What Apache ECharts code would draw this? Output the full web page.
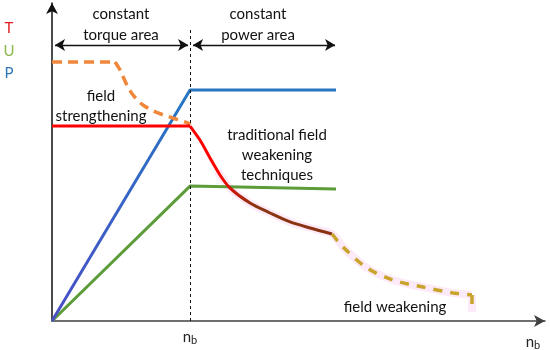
<!DOCTYPE html>
<html><head><meta charset="utf-8">
<script src="https://cdn.jsdelivr.net/npm/echarts@6/dist/echarts.min.js"></script>
<style>html,body{margin:0;padding:0;background:#fff}#c{width:550px;height:350px}</style>
</head><body><div id="c"></div>
<script>
// speed in units of n_b, values in units of rated torque
var torqueFlat = [[0,1.0],[1,1.0]];
var torqueT = [[1,1.0],[1.072,0.928],[1.145,0.836],[1.217,0.749],[1.290,0.682],[1.435,0.605],[1.580,0.554],[1.725,0.508],[1.870,0.477],[2.029,0.446]];
var voltageU = [[0,0],[1,0.692],[2.058,0.677]];
var powerP = [[0,0],[1,1.185],[2.058,1.185]];
var fieldStrengtheningFlat = [[0,1.328],[0.457,1.328]];
var fieldStrengthening = [[0.457,1.328],[0.493,1.287],[0.543,1.210],[0.587,1.159],[0.659,1.108],[0.768,1.067],[0.877,1.041],[0.986,1.015],[1.0,1.005]];
var fieldWeakening = [[2.029,0.446],[2.109,0.379],[2.283,0.272],[2.471,0.210],[2.688,0.174],[2.906,0.144],[3.043,0.133]];
var fieldWeakeningDrop = [[3.043,0.133],[3.043,0.046]];
var haloPath = [[1.20,0.77],[1.290,0.682],[1.435,0.605],[1.580,0.554],[1.725,0.508],[1.870,0.477],[2.029,0.446],[2.109,0.379],[2.283,0.272],[2.471,0.210],[2.688,0.174],[2.906,0.144],[3.043,0.133]];
var nb = 1;
var areaArrowY = 1.415;
var xMax = 3.572, yMax = 1.631;

var font = 'Lato, "Open Sans", sans-serif';
var chart = echarts.init(document.getElementById('c'));
function txt(x, y, s, color, size, align) {
  return {type:'text', x:x, y:y, style:{text:s, fill:color||'#111', font:(size||15)+'px '+font, align:align||'center', verticalAlign:'middle'}};
}
function rich(x, y) {
  return {type:'text', x:x, y:y, style:{text:'{n|n}{b|b}', rich:{n:{fontSize:15, fontFamily:font, fill:'#222'}, b:{fontSize:11, fontFamily:font, fill:'#222', padding:[6,0,0,0]}}, align:'center', verticalAlign:'middle'}};
}
var sm = {smooth:0.3};
function ln(data, z, ls, extra) {
  var s = {type:'line', data:data, symbol:'none', z:z, lineStyle:ls};
  if (extra) for (var k in extra) s[k] = extra[k];
  return s;
}
chart.setOption({
  animation:false,
  grid:{left:52, right:5, top:3, bottom:29},
  xAxis:{type:'value', min:0, max:xMax, axisLine:{show:true, symbol:['none','arrow'], symbolSize:[9,11], lineStyle:{color:'#404040', width:1.5}}, axisTick:{show:false}, axisLabel:{show:false}, splitLine:{show:false}},
  yAxis:{type:'value', min:0, max:yMax, axisLine:{show:true, symbol:['none','arrow'], symbolSize:[9,11], lineStyle:{color:'#111', width:1.5}}, axisTick:{show:false}, axisLabel:{show:false}, splitLine:{show:false}},
  series:[
    ln(haloPath, 1, {color:'#fdeaf8', width:8}, sm),
    ln(fieldWeakeningDrop, 1, {color:'#fdeaf8', width:8}),
    {type:'line', data:[], symbol:'none', z:2,
      markLine:{silent:true, symbol:'none', label:{show:false}, lineStyle:{color:'#111', width:1, type:[3,3]},
        data:[[{coord:[nb,0]},{coord:[nb,(321-28)/195]}]]}},
    {type:'line', data:[], symbol:'none', z:2,
      markLine:{silent:true, symbol:['arrow','arrow'], symbolSize:[9,10], label:{show:false}, lineStyle:{color:'#111', width:1.3, type:'solid'},
        data:[[{coord:[0.022,areaArrowY]},{coord:[0.986,areaArrowY]}],[{coord:[1.022,areaArrowY]},{coord:[2.051,areaArrowY]}]]}},
    ln(voltageU, 3, {color:'#5c9c3a', width:3}),
    ln(powerP, 4, {width:3, color:new echarts.graphic.LinearGradient(0,1,0,0,[{offset:0,color:'#4a4ec6'},{offset:1,color:'#2677c4'}])}),
    ln(fieldStrengtheningFlat, 5, {color:'#f0873a', width:3.5, type:[10,6]}),
    ln(fieldStrengthening, 5, {color:'#f0873a', width:3.5, type:[10,6]}, sm),
    ln(torqueFlat, 6, {color:'#ff0000', width:3}),
    ln(torqueT, 6, {width:3, color:new echarts.graphic.LinearGradient(0,0,1,0,[{offset:0,color:'#ff0000'},{offset:0.2,color:'#ff0000'},{offset:0.45,color:'#8a3512'},{offset:1,color:'#8a3010'}])}, sm),
    ln(fieldWeakening, 6, {color:'#c8a42a', width:3.5, type:[9,8]}, sm),
    ln(fieldWeakeningDrop, 6, {color:'#c8a42a', width:3.5, type:[9,8]})
  ],
  graphic:[
    txt(9,28,'T','#e02020',15), txt(9,51,'U','#8ab84a',15), txt(9,73,'P','#2e75b6',15),
    txt(121,14,'constant'), txt(121,35,'torque area'),
    txt(258,14,'constant'), txt(258,35,'power area'),
    txt(101,96,'field'), txt(101,116,'strengthening'),
    txt(277,135,'traditional field'), txt(277,155,'weakening'), txt(277,175,'techniques'),
    txt(395,307,'field weakening'),
    rich(190,337), rich(533,342)
  ]
});
</script></body></html>
